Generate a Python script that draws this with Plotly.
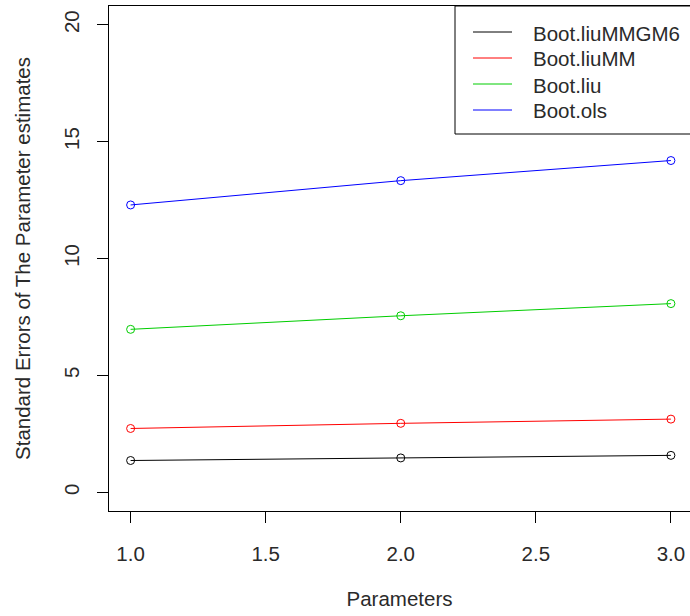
import plotly.graph_objects as go

params = [1, 2, 3]
series_names = ["Boot.liuMMGM6", "Boot.liuMM", "Boot.liu", "Boot.ols"]
series_colors = ["#000000", "#FF0000", "#00CD00", "#0000FF"]
liuMMGM6 = [1.36, 1.47, 1.58]
liuMM = [2.73, 2.95, 3.13]
liu = [6.97, 7.55, 8.07]
ols = [12.29, 13.33, 14.19]
series_values = [liuMMGM6, liuMM, liu, ols]
x_ticks = [1.0, 1.5, 2.0, 2.5, 3.0]
x_tick_labels = ["1.0", "1.5", "2.0", "2.5", "3.0"]
y_ticks = [0, 5, 10, 15, 20]
y_tick_labels = ["0", "5", "10", "15", "20"]

W, H = 690, 616
L, R, T, B = 109, 0, 6, 105
pw, ph = W - L - R, H - T - B

def px_x(p):
    return (p - L) / pw

def px_y(p):
    return (H - B - p) / ph

FONT = "Liberation Sans, Arial, sans-serif"
FS = 20.5
TXT = "#2a2a2a"

fig = go.Figure()
for name, col, vals in zip(series_names, series_colors, series_values):
    fig.add_trace(go.Scatter(
        x=params, y=vals, mode="lines+markers", name=name,
        line=dict(color=col, width=1),
        marker=dict(symbol="circle-open", size=8, color=col, line=dict(width=1, color=col)),
        showlegend=False,
    ))

# legend (R-style box)
shapes = [dict(type="rect", xref="paper", yref="paper",
               x0=px_x(455), x1=px_x(693), y0=px_y(134), y1=px_y(6),
               line=dict(color="black", width=1), fillcolor="white", layer="above")]
annotations = []
rows = [32, 58, 84, 110]
for name, col, ry in zip(series_names, series_colors, rows):
    shapes.append(dict(type="line", xref="paper", yref="paper",
                       x0=px_x(473), x1=px_x(512), y0=px_y(ry), y1=px_y(ry),
                       line=dict(color=col, width=1), layer="above"))
    annotations.append(dict(xref="paper", yref="paper", x=px_x(531), y=px_y(ry + 1),
                            text=name, showarrow=False, xanchor="left", yanchor="middle",
                            font=dict(family=FONT, size=FS, color=TXT)))

fig.update_layout(
    width=W, height=H,
    margin=dict(l=L, r=R, t=T, b=B, pad=0),
    paper_bgcolor="white", plot_bgcolor="white",
    font=dict(family=FONT, size=FS, color=TXT),
    shapes=shapes, annotations=annotations,
    xaxis=dict(range=[0.92, 0.92 + pw / 270.15], tickvals=x_ticks, ticktext=x_tick_labels,
               showgrid=False, zeroline=False, showline=True, linecolor="black", linewidth=1,
               mirror=True, ticks="outside", ticklen=11, tickcolor="black", tickwidth=1,
               ticklabelstandoff=13, tickfont=dict(size=FS),
               title=dict(text="Parameters", standoff=28, font=dict(size=FS))),
    yaxis=dict(range=[-0.8, 20.8], tickvals=y_ticks, ticktext=y_tick_labels,
               showgrid=False, zeroline=False, showline=True, linecolor="black", linewidth=1,
               ticks="outside", ticklen=11, tickcolor="black", tickwidth=1, tickangle=-90,
               ticklabelstandoff=10, tickfont=dict(size=FS),
               title=dict(text="Standard Errors of The Parameter estimates", standoff=23,
                          font=dict(size=FS))),
)

fig.write_html("out.html", config={"displayModeBar": False},
               post_script="document.body.style.margin='0';document.body.style.overflow='hidden';")
